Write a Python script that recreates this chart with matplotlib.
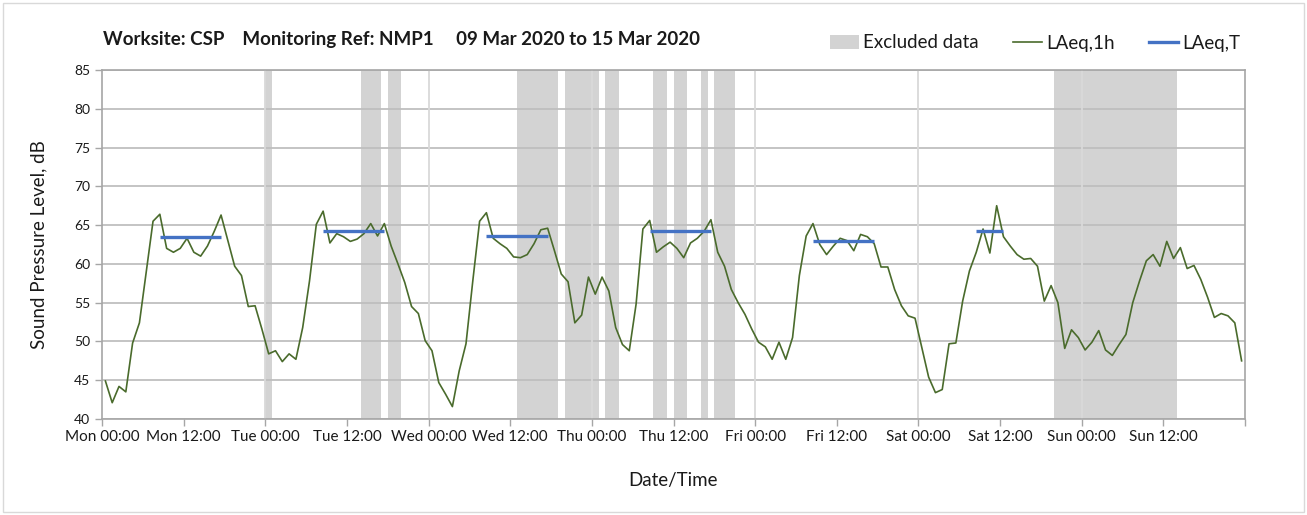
import numpy as np
import matplotlib
matplotlib.use("Agg")
import matplotlib.pyplot as plt
from matplotlib.patches import Patch, Rectangle
from matplotlib.lines import Line2D

plt.rcParams['font.family'] = ['Lato', 'DejaVu Sans']

# ---------------- data ----------------
# Hourly LAeq,1h values, Mon 00:00 .. Sun 23:00 (168 hours)
laeq_1h = [
    44.9, 42.1, 44.2, 43.5, 49.8, 52.4, 59.0, 65.5, 66.4, 62.0, 61.5, 62.0,
    63.3, 61.5, 61.0, 62.3, 64.2, 66.3, 63.0, 59.7, 58.5, 54.5, 54.6, 51.6,
    48.4, 48.8, 47.4, 48.4, 47.7, 51.8, 57.8, 65.1, 66.8, 62.7, 63.9, 63.5,
    62.9, 63.2, 63.9, 65.2, 63.6, 65.2, 62.3, 60.0, 57.6, 54.5, 53.6, 50.1,
    48.8, 44.7, 43.2, 41.6, 46.2, 49.7, 57.8, 65.5, 66.6, 63.3, 62.6, 62.0,
    60.9, 60.8, 61.2, 62.6, 64.4, 64.6, 61.7, 58.7, 57.7, 52.4, 53.4, 58.3,
    56.1, 58.3, 56.5, 51.8, 49.6, 48.8, 54.8, 64.5, 65.6, 61.5, 62.2, 62.8,
    62.0, 60.8, 62.7, 63.3, 64.2, 65.7, 61.5, 59.7, 56.7, 55.0, 53.5, 51.6,
    49.9, 49.3, 47.7, 49.9, 47.7, 50.5, 58.5, 63.6, 65.2, 62.5, 61.2, 62.3,
    63.3, 63.0, 61.7, 63.8, 63.5, 62.6, 59.6, 59.6, 56.7, 54.6, 53.3, 53.0,
    49.2, 45.4, 43.4, 43.8, 49.7, 49.8, 55.2, 59.1, 61.5, 64.5, 61.4, 67.5,
    63.5, 62.3, 61.2, 60.6, 60.7, 59.7, 55.2, 57.2, 55.0, 49.1, 51.5, 50.5,
    48.9, 49.9, 51.4, 48.9, 48.2, 49.6, 50.9, 55.0, 57.8, 60.4, 61.2, 59.7,
    62.9, 60.7, 62.1, 59.4, 59.8, 58.0, 55.7, 53.1, 53.6, 53.3, 52.4, 47.5,
]
hour_index = np.arange(len(laeq_1h))

# LAeq,T daytime averages: first hour, last hour, level
laeq_t_start = [8, 32, 56, 80, 104, 128]
laeq_t_end = [17, 41, 65, 89, 113, 132]
laeq_t_value = [63.5, 64.3, 63.6, 64.3, 63.0, 64.3]

# Excluded data periods (hours from Mon 00:00)
excl_start = [24, 38, 42, 61, 68, 74, 81, 84, 88, 90, 140]
excl_end = [25, 41, 44, 67, 73, 76, 83, 86, 89, 93, 158]

tick_hours = list(range(0, 169, 12))
tick_labels = ["Mon 00:00", "Mon 12:00", "Tue 00:00", "Tue 12:00", "Wed 00:00",
               "Wed 12:00", "Thu 00:00", "Thu 12:00", "Fri 00:00", "Fri 12:00",
               "Sat 00:00", "Sat 12:00", "Sun 00:00", "Sun 12:00", ""]
y_ticks = [40, 45, 50, 55, 60, 65, 70, 75, 80, 85]

title = "Worksite: CSP    Monitoring Ref: NMP1     09 Mar 2020 to 15 Mar 2020"

# ---------------- styles ----------------
green = "#4a6b2c"
blue = "#4472c4"
band_col = "#d3d3d3"
hgrid = "#bfbfbf"
vgrid = "#d9d9d9"
axis_col = "#a6a6a6"
text_col = "#1a1a1a"

fig = plt.figure(figsize=(13.07, 5.15), dpi=100)
ax = fig.add_axes([102 / 1307, 1 - 419 / 515, (1245 - 102) / 1307, (419 - 70) / 515])

for s, e in zip(excl_start, excl_end):
    ax.axvspan(s, e, color=band_col, lw=0, zorder=0.5)

for yv in y_ticks:
    ax.axhline(yv, color=hgrid, lw=1.3, zorder=1)
for xv in range(24, 168, 24):
    ax.axvline(xv, color=vgrid, lw=1.3, zorder=1)

ax.plot(hour_index + 0.5, laeq_1h, color=green, lw=1.2, zorder=3)
for s, e, v in zip(laeq_t_start, laeq_t_end, laeq_t_value):
    ax.plot([s + 0.5, e + 0.5], [v, v], color=blue, lw=2.4, zorder=4,
            solid_capstyle='butt')

ax.set_xlim(0, 168)
ax.set_ylim(40, 85)
ax.set_xticks(tick_hours)
ax.set_xticklabels(tick_labels)
ax.set_yticks(y_ticks)
ax.tick_params(axis='both', colors=axis_col, labelcolor=text_col, labelsize=10,
               length=5, width=1)
ax.tick_params(axis='x', pad=3, labelsize=11)
for sp in ax.spines.values():
    sp.set_color(axis_col)
    sp.set_linewidth(1.2)

ax.set_ylabel("Sound Pressure Level, dB", fontsize=13.5, color=text_col, labelpad=19)
ax.set_xlabel("Date/Time", fontsize=13.5, color=text_col, labelpad=20)

fig.text(103 / 1307, 1 - 40 / 515, title, fontsize=13.5, fontweight='bold',
         color=text_col, va='center', ha='left')

handles = [Patch(facecolor=band_col, edgecolor='none'),
           Line2D([], [], color=green, lw=1.2),
           Line2D([], [], color=blue, lw=2.4)]
fig.legend(handles, ["Excluded data", "LAeq,1h", "LAeq,T"], ncol=3,
           loc='center right', bbox_to_anchor=(1257 / 1307, 1 - 43 / 515),
           frameon=False, fontsize=13.5, handlelength=1.55, handletextpad=0.2,
           columnspacing=1.85, labelcolor=text_col)

fig.patches.append(Rectangle((3 / 1307, 3 / 515), 1 - 6 / 1307, 1 - 6 / 515,
                             transform=fig.transFigure, fill=False,
                             edgecolor="#d9d9d9", lw=1))

fig.savefig("out.png", dpi=100, facecolor='white')
